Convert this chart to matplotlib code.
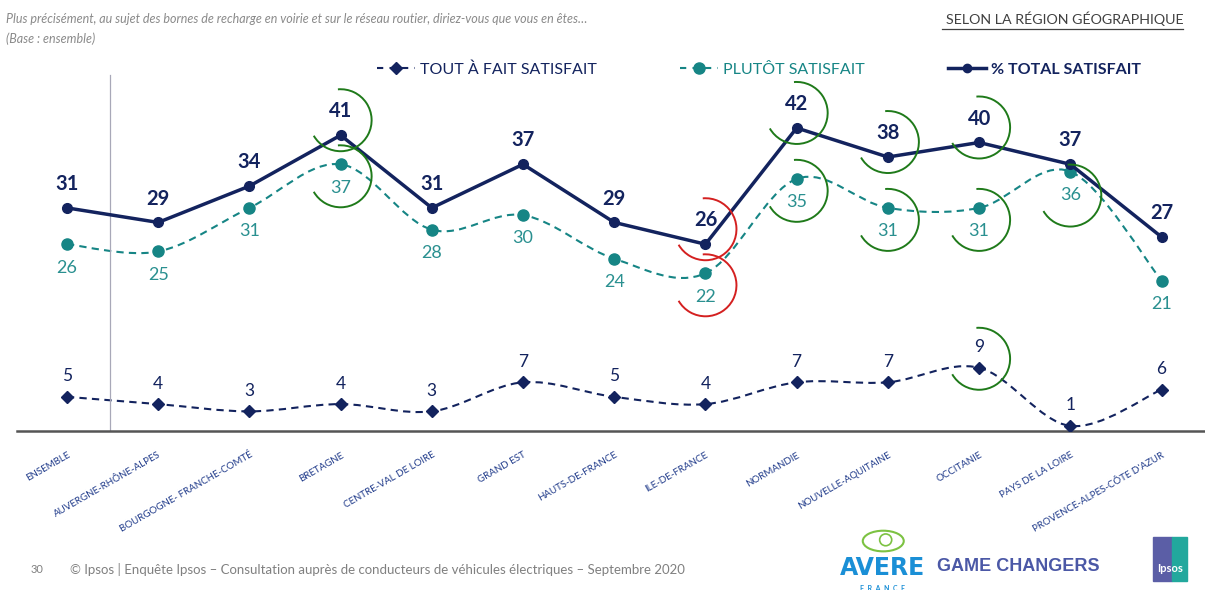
import matplotlib
matplotlib.use('Agg')
import matplotlib.pyplot as plt
import matplotlib.transforms as mtransforms
from matplotlib.path import Path
from matplotlib.patches import PathPatch, Arc, Rectangle, Ellipse
from matplotlib.lines import Line2D
import numpy as np

plt.rcParams['font.family'] = ['Lato', 'DejaVu Sans']

regions = ['Ensemble', 'Auvergne-Rhône-Alpes', 'Bourgogne- Franche-Comté', 'Bretagne',
           'Centre-Val de Loire', 'Grand Est', 'Hauts-de-France', 'Ile-de-France',
           'Normandie', 'Nouvelle-Aquitaine', 'Occitanie', 'Pays de la Loire',
           "Provence-Alpes-Côte d'Azur"]
tout_a_fait = [5, 4, 3, 4, 3, 7, 5, 4, 7, 7, 9, 1, 6]
plutot = [26, 25, 31, 37, 28, 30, 24, 22, 35, 31, 31, 36, 21]
total = [31, 29, 34, 41, 31, 37, 29, 26, 42, 38, 40, 37, 27]

# significant differences vs ensemble: (region index, series, direction)
signif = [(3, 'total', 'up'), (3, 'plutot', 'up'),
          (7, 'total', 'down'), (7, 'plutot', 'down'),
          (8, 'total', 'up'), (8, 'plutot', 'up'),
          (9, 'total', 'up'), (9, 'plutot', 'up'),
          (10, 'total', 'up'), (10, 'plutot', 'up'), (10, 'tout', 'up'),
          (11, 'plutot', 'up')]

NAVY = '#13235e'
TEAL = '#168585'
TEAL_TXT = '#2a9090'
GREEN = '#1f7a1a'
RED = '#d42020'


def smooth_path(xs, ys):
    # catmull-rom style bezier through the points (like excel smoothed lines)
    pts = np.column_stack([xs, ys]).astype(float)
    n = len(pts)
    verts = [pts[0]]
    codes = [Path.MOVETO]
    for i in range(n - 1):
        p0 = pts[i - 1] if i > 0 else pts[i]
        p1 = pts[i]
        p2 = pts[i + 1]
        p3 = pts[i + 2] if i + 2 < n else pts[i + 1]
        c1 = p1 + (p2 - p0) / 6.0
        c2 = p2 - (p3 - p1) / 6.0
        verts += [c1, c2, p2]
        codes += [Path.CURVE4] * 3
    return Path(verts, codes)


fig = plt.figure(figsize=(12.05, 5.9), dpi=100)
ax = fig.add_axes([0.0141, 0.2695, 0.986, 0.6288])
x = np.arange(len(regions))

ax.add_patch(PathPatch(smooth_path(x, plutot), fill=False, color=TEAL, lw=1.5,
                       linestyle=(0, (3.5, 2.5))))
ax.add_patch(PathPatch(smooth_path(x, tout_a_fait), fill=False, color=NAVY, lw=1.5,
                       linestyle=(0, (3.5, 2.5))))
ax.plot(x, plutot, 'o', color=TEAL, ms=8, zorder=3)
ax.plot(x, tout_a_fait, 'D', color=NAVY, ms=6, zorder=3)
ax.plot(x, total, '-o', color=NAVY, lw=2.5, ms=7, zorder=4)

for i in x:
    ax.annotate(str(total[i]), (i, total[i]), xytext=(0, 10), textcoords='offset points',
                ha='center', va='bottom', fontsize=14.5, fontweight='bold', color=NAVY)
    ax.annotate(str(plutot[i]), (i, plutot[i]), xytext=(0, -11), textcoords='offset points',
                ha='center', va='top', fontsize=13, color=TEAL_TXT)
    ax.annotate(str(tout_a_fait[i]), (i, tout_a_fait[i]), xytext=(0, 9), textcoords='offset points',
                ha='center', va='bottom', fontsize=12.5, color=NAVY)

# circled arcs, drawn in inches around each data point
series = {'total': total, 'plutot': plutot, 'tout': tout_a_fait}
shift = {'total': 0.15, 'plutot': -0.12, 'tout': 0.09}
for i, s, d in signif:
    dy = shift[s]
    if i == 11 and s == 'plutot':
        dy = -0.24
    tr = fig.dpi_scale_trans + mtransforms.ScaledTranslation(i, series[s][i], ax.transData)
    ax.add_patch(Arc((0, dy), 0.62, 0.62, theta1=-150, theta2=95, transform=tr,
                     color=GREEN if d == 'up' else RED, lw=1.4, zorder=5))

ax.axvline(0.47, ymin=0, ymax=0.96, color='#a8a8b8', lw=0.9)

ax.set_xlim(-0.548, 12.478)
ax.set_ylim(0.3, 51.35)
for side in ['top', 'right', 'left']:
    ax.spines[side].set_visible(False)
ax.spines['bottom'].set_color('#555555')
ax.spines['bottom'].set_linewidth(1.8)
ax.set_yticks([])
ax.set_xticks(x)
ax.set_xticklabels([r.upper() for r in regions], rotation=30, ha='right',
                   rotation_mode='anchor', fontsize=7, color='#1f3a8a')
ax.tick_params(axis='x', length=0, pad=14)

handles = [Line2D([], [], color=NAVY, lw=1.5, ls=(0, (3, 3)), marker='D', ms=6),
           Line2D([], [], color=TEAL, lw=1.5, ls=(0, (3, 3)), marker='o', ms=8),
           Line2D([], [], color=NAVY, lw=2.5, marker='o', ms=6)]
labels = ['TOUT À FAIT SATISFAIT', 'PLUTÔT SATISFAIT', '% TOTAL SATISFAIT']
leg = fig.legend(handles, labels, ncol=3, loc='center', bbox_to_anchor=(0.63, 0.882),
                 frameon=False, columnspacing=5.2, handlelength=2.4, handletextpad=0.3,
                 prop={'size': 11.5})
for t, c in zip(leg.get_texts(), [NAVY, TEAL, NAVY]):
    t.set_color(c)
leg.get_texts()[2].set_fontweight('bold')

fig.text(0.005, 0.968, 'Plus précisément, au sujet des bornes de recharge en voirie et sur le réseau routier, diriez-vous que vous en êtes…',
         fontsize=9, style='italic', color='#8a8a8a', va='center')
fig.text(0.005, 0.935, '(Base : ensemble)', fontsize=9, style='italic', color='#8a8a8a', va='center')
fig.text(0.982, 0.968, 'SELON LA RÉGION GÉOGRAPHIQUE', fontsize=10.3, color='#404040',
         ha='right', va='center')
fig.add_artist(Line2D([0.782, 0.982], [0.951, 0.951], color='#404040', lw=0.9))

fig.text(0.025, 0.034, '30', fontsize=8, color='#808080', va='center')
fig.text(0.058, 0.034, '© Ipsos | Enquête Ipsos – Consultation auprès de conducteurs de véhicules électriques – Septembre 2020',
         fontsize=9.5, color='#808080', va='center')

# logos
fig.add_artist(Ellipse((0.733, 0.083), 0.034, 0.035, fill=False, ec='#7cc242', lw=1.5,
                       transform=fig.transFigure))
fig.add_artist(Ellipse((0.735, 0.085), 0.01, 0.02, fill=False, ec='#7cc242', lw=1.2,
                       transform=fig.transFigure))
fig.text(0.732, 0.038, 'AVERE', fontsize=17, fontweight='bold', color='#1a8fd6',
         ha='center', va='center', family=['Liberation Sans Narrow', 'DejaVu Sans'])
fig.text(0.732, 0.003, 'F  R  A  N  C  E', fontsize=5, fontweight='bold', color='#1a8fd6',
         ha='center', va='center')
fig.text(0.778, 0.04, 'GAME CHANGERS', fontsize=13, fontweight='bold', color='#4b58a6',
         va='center', family=['Liberation Sans', 'DejaVu Sans'])
fig.add_artist(Rectangle((0.957, 0.016), 0.016, 0.073, color='#5b5ea6', transform=fig.transFigure))
fig.add_artist(Rectangle((0.973, 0.016), 0.012, 0.073, color='#22a89d', transform=fig.transFigure))
fig.text(0.971, 0.036, 'Ipsos', fontsize=8, fontweight='bold', color='white',
         ha='center', va='center')

fig.savefig('out.png', dpi=100)
